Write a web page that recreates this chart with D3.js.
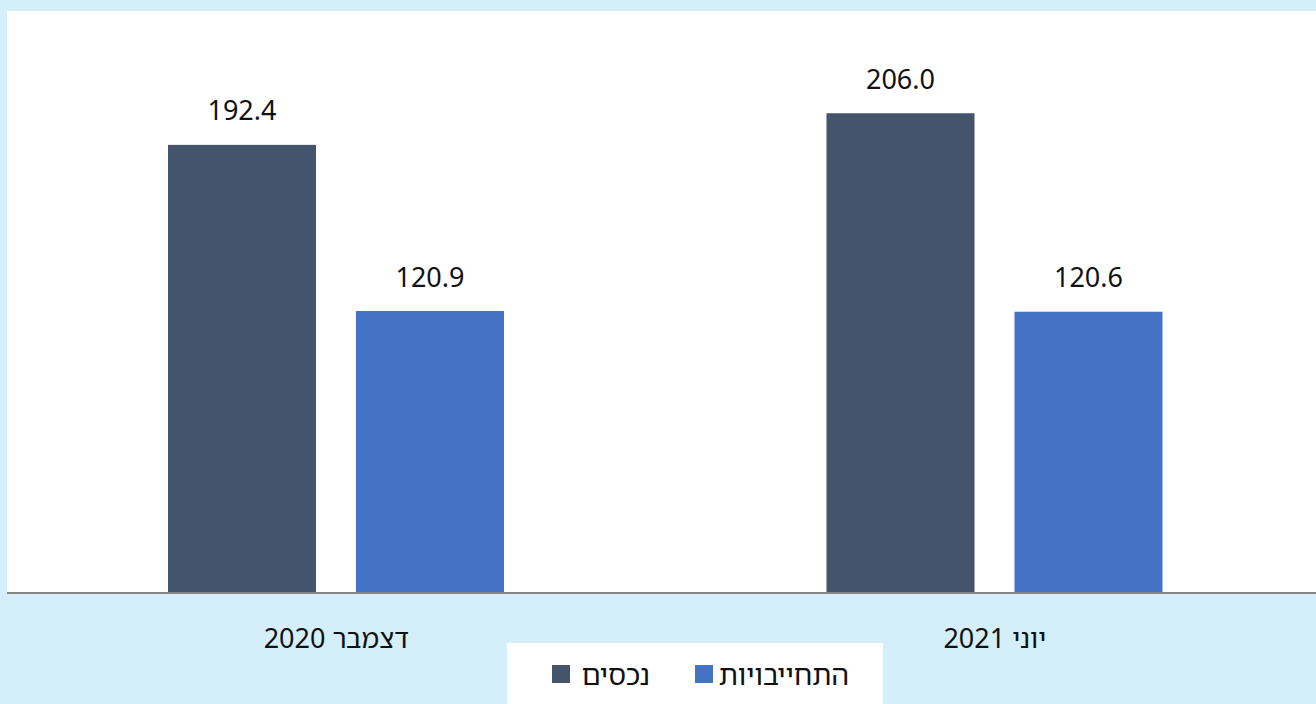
<!DOCTYPE html>
<html lang="he">
<head>
<meta charset="utf-8">
<script src="https://cdn.jsdelivr.net/npm/d3@7"></script>
<style>
  html, body { margin: 0; padding: 0; background: #d4eefa; }
  svg { display: block; }
  text { font-family: "Noto Sans", "Noto Sans Hebrew", "DejaVu Sans", sans-serif; fill: #111; }
</style>
</head>
<body>
<svg id="chart" width="1316" height="704"></svg>
<script>
const categories = ["דצמבר 2020", "יוני 2021"];
const seriesNames = ["נכסים", "התחייבויות"];
const assets = [192.4, 206.0];
const liabilities = [120.9, 120.6];
const seriesColors = ["#44546a", "#4472c4"];
const yDomain = [0, 250];

const svg = d3.select("#chart");
const W = 1316, H = 704;

svg.append("rect").attr("width", W).attr("height", H).attr("fill", "#d4eefa");

const plot = { left: 7, top: 11, right: 1324, bottom: 592 };
svg.append("rect")
  .attr("x", plot.left).attr("y", plot.top)
  .attr("width", W - plot.left).attr("height", plot.bottom - plot.top)
  .attr("fill", "#ffffff");

const x0 = d3.scaleBand().domain(categories).range([plot.left, plot.right]).paddingInner(0).paddingOuter(0);
const x1 = d3.scaleBand().domain(seriesNames).range([161, 497]).paddingInner(40 / 188).paddingOuter(0);
const y = d3.scaleLinear().domain(yDomain).range([plot.bottom, plot.top]);

const rows = categories.map((c, i) => ({ cat: c, vals: [assets[i], liabilities[i]] }));

const groups = svg.selectAll("g.grp").data(rows).join("g")
  .attr("class", "grp")
  .attr("transform", d => `translate(${x0(d.cat)},0)`);

groups.selectAll("rect").data(d => d.vals.map((v, j) => ({ s: seriesNames[j], v, j }))).join("rect")
  .attr("x", d => x1(d.s))
  .attr("y", d => y(d.v))
  .attr("width", x1.bandwidth())
  .attr("height", d => y(0) - y(d.v))
  .attr("fill", d => seriesColors[d.j]);

groups.selectAll("text.val").data(d => d.vals.map((v, j) => ({ s: seriesNames[j], v, j }))).join("text")
  .attr("class", "val")
  .attr("x", d => x1(d.s) + x1.bandwidth() / 2)
  .attr("y", d => y(d.v) - 24.5)
  .attr("text-anchor", "middle")
  .style("font-size", "27px")
  .text(d => d.v.toFixed(1));

// x axis
const xAxis = d3.axisBottom(x0).tickSize(0).tickPadding(0);
const ax = svg.append("g").attr("transform", `translate(0,${plot.bottom})`).call(xAxis);
ax.select(".domain").remove();
ax.selectAll("text")
  .attr("y", 56)
  .attr("dy", 0)
  .attr("direction", "rtl")
  .style("font-size", "27px")
  .style("font-family", '"Noto Sans", "Noto Sans Hebrew", "DejaVu Sans", sans-serif')
  .attr("fill", "#111");

svg.append("line")
  .attr("x1", plot.left).attr("x2", W)
  .attr("y1", plot.bottom + 1).attr("y2", plot.bottom + 1)
  .attr("stroke", "#868686").attr("stroke-width", 2);

// legend
const lg = svg.append("g");
lg.append("rect").attr("x", 507).attr("y", 643).attr("width", 376).attr("height", 61).attr("fill", "#ffffff");
const legendItems = [
  { name: seriesNames[0], color: seriesColors[0], sx: 552, tx: 650 },
  { name: seriesNames[1], color: seriesColors[1], sx: 695, tx: 849 }
];
const li = lg.selectAll("g.li").data(legendItems).join("g").attr("class", "li");
li.append("rect").attr("x", d => d.sx).attr("y", 665).attr("width", 18).attr("height", 18).attr("fill", d => d.color);
li.append("text")
  .attr("x", d => d.tx).attr("y", 685)
  .attr("text-anchor", "end")
  .style("font-size", "28px")
  .text(d => d.name);
</script>
</body>
</html>
